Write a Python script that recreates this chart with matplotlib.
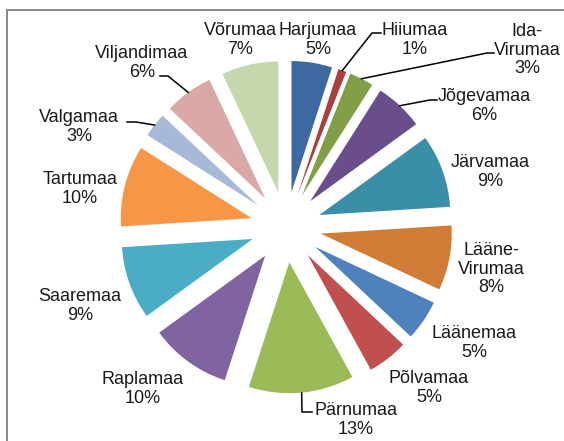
import matplotlib
matplotlib.use("Agg")
from matplotlib import pyplot as plt
from matplotlib.patches import Rectangle
import numpy as np

plt.rcParams['font.family'] = ['Liberation Sans', 'DejaVu Sans']

counties = ["Harjumaa", "Hiiumaa", "Ida-\nVirumaa", "Jõgevamaa", "Järvamaa",
            "Lääne-\nVirumaa", "Läänemaa", "Põlvamaa", "Pärnumaa", "Raplamaa",
            "Saaremaa", "Tartumaa", "Valgamaa", "Viljandimaa", "Võrumaa"]
shares = [5, 1, 3, 6, 9, 8, 5, 5, 13, 10, 9, 10, 3, 6, 7]
colors = ["#3D69A0", "#A8413E", "#809F47", "#6A4E8B", "#3A8EA8",
          "#CF7C37", "#4F81BD", "#C0504D", "#9BBB59", "#8064A2",
          "#4BACC6", "#F79646", "#A8B9D8", "#D9A8A7", "#C6D6AD"]

# pixel layout of the reference picture
W, H = 564, 441
CX, CY, R_PX = 286, 227, 131


def px(x, y):
    return (x - CX) / R_PX, (CY - y) / R_PX


# label block centres (pixels)
label_pos = [(318, 40), (415, 40), (527, 50), (484, 106), (490, 172),
             (491, 269), (474, 343), (429, 388), (356, 420), (143, 389),
             (80, 306), (80, 189), (79, 127), (142, 63), (240, 40)]
# leader lines: index -> elbow points (pixels)
leaders = {1: [(372, 33), (381, 33)],
           2: [(487, 53), (494, 53)],
           3: [(430, 100), (437, 100)],
           13: [(168, 76), (160, 76)],
           12: [(136, 122), (127, 122)],
           8: [(302, 412), (312, 412)]}

fig = plt.figure(figsize=(W / 100, H / 100), dpi=100)
ax = fig.add_axes([0, 0, 1, 1])
wedges, _ = ax.pie(shares, colors=colors, startangle=90, counterclock=False,
                   explode=[0.27] * len(shares), radius=1,
                   wedgeprops=dict(linewidth=0))
ax.set_xlim(px(0, 0)[0], px(W, 0)[0])
ax.set_ylim(px(0, H)[1], px(0, 0)[1])
ax.axis("off")

for i, (name, val) in enumerate(zip(counties, shares)):
    x, y = px(*label_pos[i])
    ax.text(x, y, f"{name}\n{val}%", ha="center", va="center",
            fontsize=13, linespacing=1.13, color="#1a1a1a")

for i, pts in leaders.items():
    w = wedges[i]
    mid = np.deg2rad((w.theta1 + w.theta2) / 2)
    start = (w.center[0] + np.cos(mid), w.center[1] + np.sin(mid))
    xs = [start[0]] + [px(*p)[0] for p in pts]
    ys = [start[1]] + [px(*p)[1] for p in pts]
    ax.plot(xs, ys, color="black", lw=1.1)

fig.add_artist(Rectangle((6.5 / W, -0.1), 1.2, 1.1 - 10 / H,
                         transform=fig.transFigure, fill=False,
                         edgecolor="#888888", lw=1.4))

fig.savefig("out.png", dpi=100)
